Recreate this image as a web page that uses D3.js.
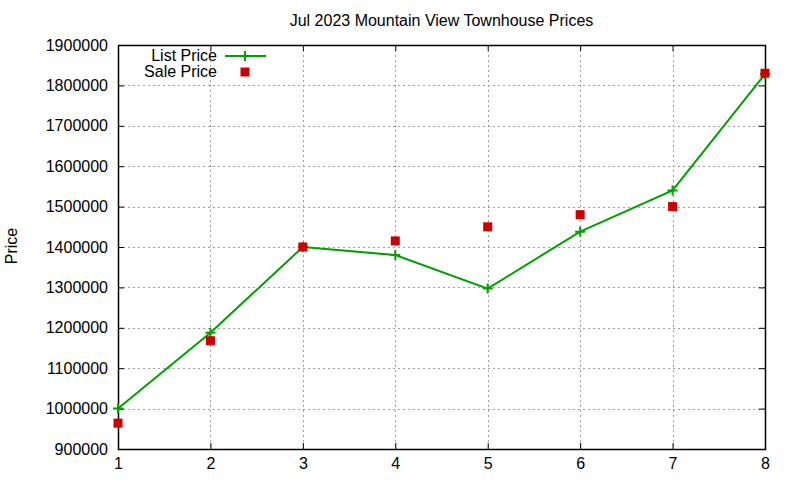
<!DOCTYPE html>
<html>
<head>
<meta charset="utf-8">
<script src="https://cdn.jsdelivr.net/npm/d3@7"></script>
<style>
  body { margin: 0; background: #fff; }
  svg text { font-family: "Liberation Sans", Arial, sans-serif; fill: #000; }
</style>
</head>
<body>
<svg id="chart" width="800" height="480"></svg>
<script>
// chart data
var months = [1, 2, 3, 4, 5, 6, 7, 8];
var listPrice = [1000000, 1188000, 1400000, 1380000, 1297000, 1438000, 1540000, 1828000];
var salePrice = [964000, 1168000, 1400000, 1415000, 1450000, 1480000, 1500000, 1830000];
var yTicks = [900000, 1000000, 1100000, 1200000, 1300000, 1400000, 1500000, 1600000, 1700000, 1800000, 1900000];

var margin = { left: 118, right: 35, top: 45, bottom: 31 };
var W = 800, H = 480;
var fontSize = "16px";
var svg = d3.select("#chart");

var x = d3.scaleLinear().domain([1, 8]).range([margin.left, W - margin.right]);
var y = d3.scaleLinear().domain([900000, 1900000]).range([H - margin.bottom, margin.top]);

// grid
var grid = svg.append("g").attr("stroke", "#a0a0a0").attr("stroke-width", 1)
    .attr("stroke-dasharray", "2,3").attr("shape-rendering", "crispEdges");
months.slice(1, -1).forEach(function(m) {
    grid.append("line").attr("x1", Math.round(x(m)) + 0.5).attr("x2", Math.round(x(m)) + 0.5)
        .attr("y1", y.range()[1]).attr("y2", y.range()[0]);
});
yTicks.slice(1, -1).forEach(function(v) {
    grid.append("line").attr("y1", Math.round(y(v)) + 0.5).attr("y2", Math.round(y(v)) + 0.5)
        .attr("x1", x.range()[0]).attr("x2", x.range()[1]);
});

// axes (ticks inward, mirrored)
var tickLen = 6;
svg.append("g").attr("transform", "translate(0," + y.range()[0] + ")")
    .call(d3.axisBottom(x).tickValues(months).tickSizeInner(-tickLen).tickSizeOuter(0).tickPadding(9).tickFormat(d3.format("d")));
svg.append("g").attr("transform", "translate(0," + y.range()[1] + ")")
    .call(d3.axisTop(x).tickValues(months).tickSizeInner(-tickLen).tickSizeOuter(0).tickFormat(""));
svg.append("g").attr("transform", "translate(" + x.range()[0] + ",0)")
    .call(d3.axisLeft(y).tickValues(yTicks).tickSizeInner(-tickLen).tickSizeOuter(0).tickPadding(10).tickFormat(d3.format("d")));
svg.append("g").attr("transform", "translate(" + x.range()[1] + ",0)")
    .call(d3.axisRight(y).tickValues(yTicks).tickSizeInner(-tickLen).tickSizeOuter(0).tickFormat(""));

svg.selectAll(".domain").remove();
svg.selectAll(".tick line").attr("stroke", "#000");
svg.selectAll(".tick text").attr("font-size", fontSize).attr("font-family", "Liberation Sans, Arial, sans-serif").attr("fill", "#000");

// frame
svg.append("rect").attr("x", x.range()[0] + 0.5).attr("y", y.range()[1] + 0.5)
    .attr("width", x.range()[1] - x.range()[0]).attr("height", y.range()[0] - y.range()[1])
    .attr("fill", "none").attr("stroke", "#000").attr("stroke-width", 1.5);

// list price line with crosses
var green = "#00a000", red = "#cc0000";
var line = d3.line().x(function(d, i) { return x(months[i]); }).y(function(d) { return y(d); });
svg.append("path").datum(listPrice).attr("d", line)
    .attr("fill", "none").attr("stroke", green).attr("stroke-width", 2);
svg.selectAll(".cross").data(listPrice).enter().append("path")
    .attr("class", "cross")
    .attr("d", function(d, i) {
        var cx = x(months[i]), cy = y(d), s = 5;
        return "M" + (cx - s) + "," + cy + "H" + (cx + s) + "M" + cx + "," + (cy - s) + "V" + (cy + s);
    })
    .attr("stroke", green).attr("stroke-width", 2);

// sale price squares
svg.selectAll(".sq").data(salePrice).enter().append("rect")
    .attr("class", "sq")
    .attr("x", function(d, i) { return x(months[i]) - 4.5; })
    .attr("y", function(d) { return y(d) - 4.5; })
    .attr("width", 9).attr("height", 9).attr("fill", red);

// title
svg.append("text").attr("x", (x.range()[0] + x.range()[1]) / 2).attr("y", 26)
    .attr("text-anchor", "middle").attr("font-size", fontSize)
    .text("Jul 2023 Mountain View Townhouse Prices");

// y label
svg.append("text").attr("transform", "translate(17,246) rotate(-90)")
    .attr("text-anchor", "middle").attr("font-size", fontSize).text("Price");

// legend
var lg = svg.append("g");
lg.append("text").attr("x", 217).attr("y", 61).attr("text-anchor", "end").attr("font-size", fontSize).text("List Price");
lg.append("line").attr("x1", 225).attr("x2", 266).attr("y1", 56).attr("y2", 56).attr("stroke", green).attr("stroke-width", 2);
lg.append("path").attr("d", "M245,51V61").attr("stroke", green).attr("stroke-width", 2);
lg.append("text").attr("x", 217).attr("y", 77).attr("text-anchor", "end").attr("font-size", fontSize).text("Sale Price");
lg.append("rect").attr("x", 240.5).attr("y", 67.5).attr("width", 9).attr("height", 9).attr("fill", red);
</script>
</body>
</html>
